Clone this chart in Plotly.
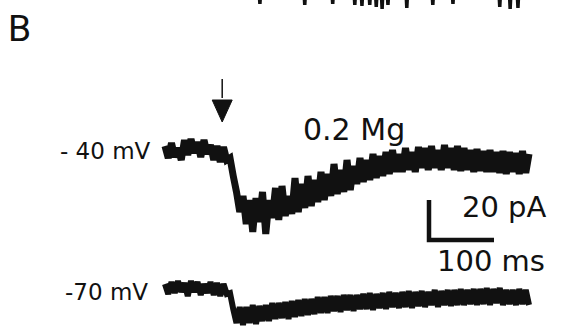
import plotly.graph_objects as go

# ---- data ----
# sampling step of the traces (ms)
STEP_MS = 5
# -40 mV trace, current relative to baseline (pA)
trace_40 = [3, -3, 4.5, -2.5, 2, -4, 6, -1.5, 6.5, -0.5, 5, -2.5, 6, -1, 3.5, -4, 3, -5, 2.5, -4,
            -3, -12, -20, -30, -22, -36, -24, -40, -23, -35,
            -20, -41, -24, -33, -18, -34, -17, -32, -22, -31,
            -13, -30, -16, -28, -12, -27, -14, -25, -10, -24,
            -11, -22, -6, -21, -9, -20, -4, -19, -7, -16,
            -3, -15, -4, -14, -1, -13, -2, -12, 0, -11,
            1, -10, -1, -10, 2, -9, 0, -10, 2.5, -8,
            2, -9, 3, -8, 1, -9, 3.5, -8, 2, -9,
            3, -9.5, 2, -9, 1, -10, 1.5, -9.5, 0.5, -10,
            1, -10, 0, -10.5, 0.5, -11, 0, -10, -0.5, -11,
            0.5, -10.5, -1]
# -70 mV trace, current relative to baseline (pA)
trace_70 = [2.5, -2.5, 3.5, -2, 4, -1.5, 3, -3.5, 4, -1.5, 3.5, -3, 2.5, -2, 3.5, -3, 3, -3.5, 2.5, -2.5,
            -2, -10, -17, -9, -18, -9, -17, -8, -17.5, -8.5,
            -16, -8, -16, -7, -15, -7, -14.5, -6.5, -15, -6,
            -14, -5.5, -13.5, -5, -13, -5, -12.5, -4, -12, -4,
            -12, -3.5, -11, -3.5, -11.5, -3, -10.5, -3, -11, -3,
            -10, -2.5, -10, -2, -10.5, -2.5, -9.5, -2, -10, -1.5,
            -9, -2, -9.5, -1.5, -9, -1, -9.5, -1.5, -8.5, -1,
            -9, -1.5, -8, -0.5, -9, -1, -8, -0.5, -8.5, -0.5,
            -8, 0, -8, -0.5, -7.5, 0, -8, 0, -7.5, 0.5,
            -8, 0, -7, 0.5, -8, -0.5, -7.5, -0.5, -8, 0,
            -7.5, -0.5, -8]
# fragment of the panel-A trace visible at the top edge (spike times ms, tip currents pA)
fragA_times = [146, 215, 258, 292, 303, 315, 325, 334, 343, 372, 412, 443, 515, 531, 543]
fragA_tips = [74, 73.5, 74, 73.5, 73, 73.5, 72.5, 71.5, 73.5, 72, 73.5, 74, 72.5, 71.5, 72]
FRAG_BASE = 82

stim_time = 88          # ms, arrow
scale_ms = 100
scale_pA = 20

labels_v = ["- 40 mV", "-70 mV"]
cond_label = "0.2 Mg"
panel_label = "B"

# ---- layout constants ----
W, H = 567, 329
X0 = 165          # px where t = 0
PX_PER_MS = 0.65
Y0 = 152          # px of -40 mV baseline
PX_PER_PA = 2.0
OFFSET_70 = -68.5  # vertical offset of the -70 mV trace (pA)

xr = [(0 - X0) / PX_PER_MS, (W - X0) / PX_PER_MS]
yr = [(Y0 - H) / PX_PER_PA, (Y0 - 0) / PX_PER_PA]

t = [STEP_MS * i for i in range(len(trace_40))]
t70 = [STEP_MS * i for i in range(len(trace_70))]

fig = go.Figure()
ink = "#111111"

fig.add_trace(go.Scatter(x=t, y=trace_40, mode="lines",
                         line=dict(color=ink, width=7, simplify=False), hoverinfo="skip"))
fig.add_trace(go.Scatter(x=t70, y=[v + OFFSET_70 for v in trace_70], mode="lines",
                         line=dict(color=ink, width=6, simplify=False), hoverinfo="skip"))

# panel-A fragment
fx, fy = [fragA_times[0] - 40], [FRAG_BASE]
for tt, tip in zip(fragA_times, fragA_tips):
    fx += [tt - 1.5, tt, tt + 1.5]
    fy += [FRAG_BASE, tip, FRAG_BASE]
fig.add_trace(go.Scatter(x=fx, y=fy, mode="lines", line=dict(color=ink, width=3.5, simplify=False),
                         hoverinfo="skip"))

# stimulus arrow
head_top = 26
head_tip = 15
half_w = 10 / PX_PER_MS
fig.add_trace(go.Scatter(x=[stim_time, stim_time], y=[36.5, head_top + 1], mode="lines",
                         line=dict(color=ink, width=1.5), hoverinfo="skip"))
fig.add_trace(go.Scatter(x=[stim_time - half_w, stim_time + half_w, stim_time, stim_time - half_w],
                         y=[head_top, head_top, head_tip, head_top], mode="lines",
                         fill="toself", fillcolor=ink, line=dict(color=ink, width=1),
                         hoverinfo="skip"))

# scale bar
sb_t = (429 - X0) / PX_PER_MS
sb_i = (Y0 - 240) / PX_PER_PA
fig.add_trace(go.Scatter(x=[sb_t, sb_t, sb_t + scale_ms], y=[sb_i + scale_pA, sb_i, sb_i],
                         mode="lines", line=dict(color=ink, width=4.5), hoverinfo="skip"))


def px(x):
    return x / W


def py(y):
    return 1 - y / H


txt = "#111111"
ann = [
    dict(text=panel_label, x=px(6), y=py(29), xanchor="left", yanchor="middle",
         font=dict(family="Roboto", size=37, color=txt)),
    dict(text=labels_v[0], x=px(153), y=py(151), xanchor="right", yanchor="middle",
         font=dict(family="DejaVu Sans", size=23, color=txt)),
    dict(text=labels_v[1], x=px(150), y=py(292), xanchor="right", yanchor="middle",
         font=dict(family="DejaVu Sans", size=23, color=txt)),
    dict(text=cond_label, x=px(354), y=py(129), xanchor="center", yanchor="middle",
         font=dict(family="DejaVu Sans", size=30, color=txt)),
    dict(text=f"{scale_pA} pA", x=px(504), y=py(207), xanchor="center", yanchor="middle",
         font=dict(family="DejaVu Sans", size=29, color=txt)),
    dict(text=f"{scale_ms} ms", x=px(491), y=py(261), xanchor="center", yanchor="middle",
         font=dict(family="DejaVu Sans", size=29, color=txt)),
]
for a in ann:
    a.update(xref="paper", yref="paper", showarrow=False)

fig.update_layout(
    width=W, height=H, margin=dict(l=0, r=0, t=0, b=0),
    paper_bgcolor="white", plot_bgcolor="white", showlegend=False,
    xaxis=dict(visible=False, range=xr, fixedrange=True),
    yaxis=dict(visible=False, range=yr, fixedrange=True),
    annotations=ann,
)

fig.write_html("out.html", config={"displayModeBar": False},
               post_script="document.body.style.margin='0';document.body.style.overflow='hidden';")
